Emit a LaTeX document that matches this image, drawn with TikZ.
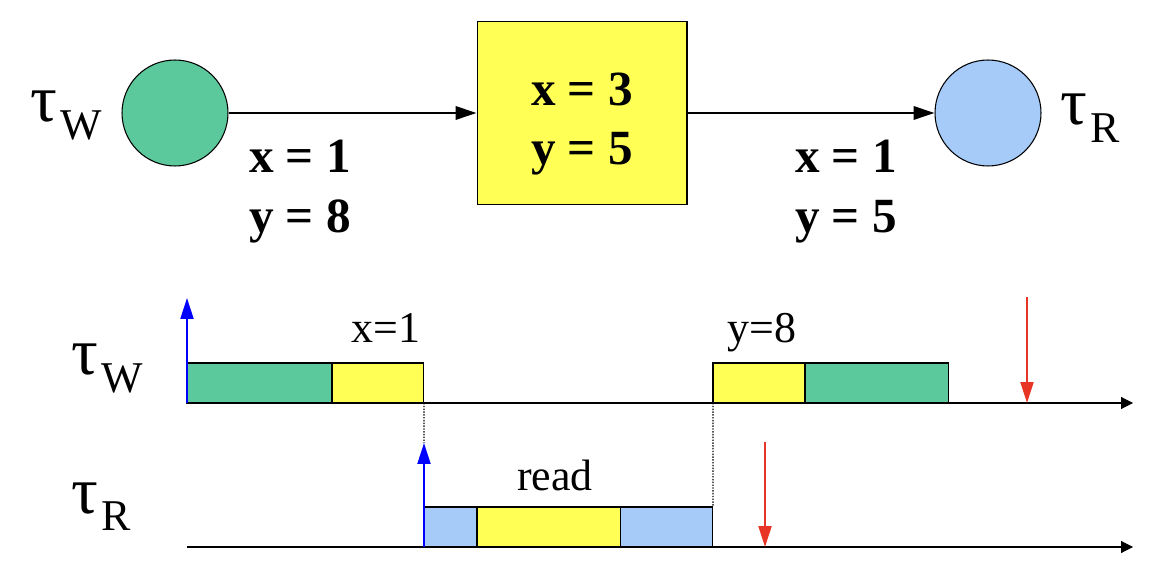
\documentclass[tikz,border=0pt]{standalone}
\usepackage{fontspec}
\setmainfont{Liberation Serif}[BoldFont={Liberation Serif Bold}]
\usetikzlibrary{positioning,arrows.meta}

\definecolor{wgreen}{RGB}{91,201,155}
\definecolor{rblue}{RGB}{166,203,248}
\definecolor{bufyellow}{RGB}{255,255,85}
\definecolor{dlred}{RGB}{232,52,36}

% task name: big tau with lowered letter
\newcommand{\taulab}[2]{{\fontsize{38}{38}\selectfont τ}\kern2pt\raisebox{-10pt}{\fontsize{#2}{#2}\selectfont #1}}

\begin{document}
\begin{tikzpicture}[x=0.02cm, y=-0.02cm, node distance=0cm,
  task/.style={draw, circle, minimum size=2.12cm, line width=0.6pt},
  shared/.style={draw, rectangle, fill=bufyellow, minimum width=4.2cm, minimum height=3.66cm, line width=0.6pt},
  val/.style={inner sep=0pt, align=center, anchor=north, font=\fontsize{28}{34}\selectfont\bfseries},
  flow/.style={-{Triangle[length=0.42cm, width=0.27cm]}, line width=1.1pt},
  seg/.style={draw, rectangle, minimum height=0.8cm, inner sep=0pt, outer sep=0pt, line width=0.6pt},
  evt/.style={inner sep=0pt, anchor=base, font=\fontsize{25}{25}\selectfont},
  axis/.style={-{Triangle[length=0.24cm, width=0.24cm]}, line width=0.6pt},
  drop/.style={line width=0.7pt, dash pattern=on 0.8pt off 0.8pt},
  release/.style={blue, line width=1.2pt, -{Triangle[length=0.42cm, width=0.26cm]}},
  deadline/.style={dlred, line width=1.2pt, -{Triangle[length=0.42cm, width=0.26cm]}}]
\useasboundingbox (0,0) rectangle (1162,580);

% Top: writer, shared variables, reader
\node[task, fill=wgreen] (tw) at (175,113) {};
\node[shared] (buf) at (582,113) {};
\node[val, anchor=center] (bufval) at (582,124) {x = 3\\y = 5};
\node[task, fill=rblue] (tr) at (988,113) {};
\node[anchor=base west, inner sep=0pt] (twname) at (30,122) {\taulab{W}{25}};
\node[anchor=base west, inner sep=0pt] (trname) at (1060,125) {\taulab{R}{25}};
\draw[flow] (tw) -- (buf);
\draw[flow] (buf) -- (tr);
\node[val] (wval) at (300,140) {x = 1\\y = 8};
\node[val] (rval) at (846,140) {x = 1\\y = 5};

% Bottom: time lines
\node[anchor=base west, inner sep=0pt] (twline) at (71,375) {\taulab{W}{25}};
\node[anchor=base west, inner sep=0pt] (trline) at (71,513) {\taulab{R}{25}};

\node[seg, fill=wgreen, minimum width=2.9cm, anchor=south west] (w1) at (187,403) {};
\node[seg, fill=bufyellow, minimum width=1.84cm, right=of w1] (w2) {};
\node[seg, fill=bufyellow, minimum width=1.84cm, anchor=south west] (w3) at (713,403) {};
\node[seg, fill=wgreen, minimum width=2.88cm, right=of w3] (w4) {};

\node[seg, fill=rblue, minimum width=1.06cm, anchor=south west] (r1) at (424,547) {};
\node[seg, fill=bufyellow, minimum width=2.88cm, right=of r1] (r2) {};
\node[seg, fill=rblue, minimum width=1.84cm, right=of r2] (r3) {};

\coordinate (wend) at (1133,403);
\coordinate (rstart) at (187,547);
\coordinate (rend) at (1133,547);
\coordinate (wrel) at (187,298);
\coordinate (rrel) at (424,443);
\coordinate (wdltop) at (1027,297);
\coordinate (wdl) at (1027,403);
\coordinate (rdltop) at (765,442);
\coordinate (rdl) at (765,547);

\draw[axis] (w1.south west) -- (wend);
\draw[axis] (rstart) -- (rend);
\draw[drop] (w2.south east) -- (rrel);
\draw[drop] (w3.south west) -- (r3.north east);
\draw[release] (w1.south west) -- (wrel);
\draw[release] (r1.south west) -- (rrel);
\draw[deadline] (wdltop) -- (wdl);
\draw[deadline] (rdltop) -- (rdl);

\node[evt] (xw) at (386,343) {x=1};
\node[evt] (yw) at (762,343) {y=8};
\node[evt] (rd) at (555,490) {read};
\end{tikzpicture}
\end{document}
